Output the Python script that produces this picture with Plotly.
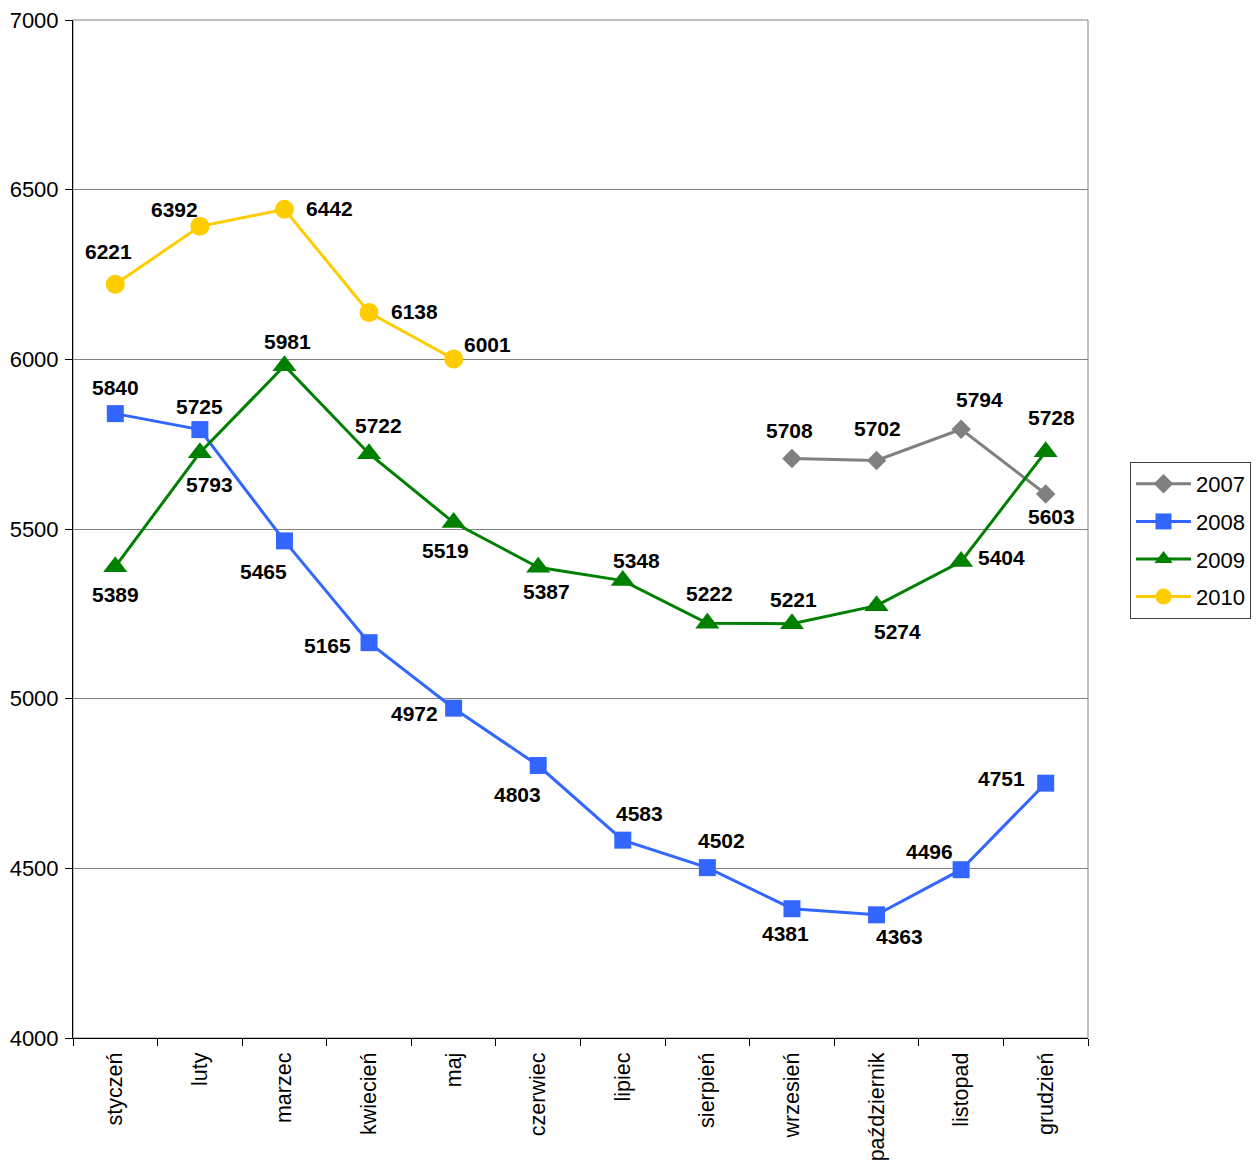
import plotly.graph_objects as go

months = ["styczeń", "luty", "marzec", "kwiecień", "maj", "czerwiec", "lipiec",
          "sierpień", "wrzesień", "październik", "listopad", "grudzień"]

v2007 = [None, None, None, None, None, None, None, None, 5708, 5702, 5794, 5603]
v2008 = [5840, 5793, 5465, 5165, 4972, 4803, 4583, 4502, 4381, 4363, 4496, 4751]
v2009 = [5389, 5725, 5981, 5722, 5519, 5387, 5348, 5222, 5221, 5274, 5404, 5728]
v2010 = [6221, 6392, 6442, 6138, 6001, None, None, None, None, None, None, None]

# label texts as printed in the original chart
lab2007 = [None] * 8 + ["5708", "5702", "5794", "5603"]
lab2008 = ["5840", "5725", "5465", "5165", "4972", "4803", "4583", "4502", "4381", "4363", "4496", "4751"]
lab2009 = ["5389", "5793", "5981", "5722", "5519", "5387", "5348", "5222", "5221", "5274", "5404", "5728"]
lab2010 = ["6221", "6392", "6442", "6138", "6001"] + [None] * 7

# label offsets (px) relative to the point: (dx, dy up)
off2007 = [None] * 8 + [(-2, 28), (1, 32), (18, 30), (6, -22)]
off2008 = [(0, 26), (0, 23), (-21, -31), (-42, -3), (-39, -5), (-21, -29), (17, 27),
           (14, 27), (-6, -25), (23, -22), (-32, 18), (-44, 5)]
off2009 = [(0, -28), (10, -32), (3, 24), (9, 28), (-8, -28), (8, -24), (14, 20),
           (2, 30), (2, 24), (21, -26), (40, 4), (6, 34)]
off2010 = [(-7, 33), (-25, 17), (45, 1), (45, 1), (34, 14)] + [None] * 7

FONT = "Liberation Sans, Arial, sans-serif"

series = [
    ("2007", v2007, lab2007, off2007, "#808080", "diamond", 15),
    ("2008", v2008, lab2008, off2008, "#3366FF", "square", 17),
    ("2009", v2009, lab2009, off2009, "#008000", "triangle-up", 21),
    ("2010", v2010, lab2010, off2010, "#FFCC00", "circle", 19),
]

fig = go.Figure()
annotations = []
for name, vals, labs, offs, color, sym, msize in series:
    fig.add_trace(go.Scatter(
        x=months, y=vals, name=name, mode="lines+markers",
        line=dict(color=color, width=3),
        marker=dict(symbol=sym, size=msize, color=color),
        legendgroup=name, connectgaps=False,
    ))
    for m, v, t, o in zip(months, vals, labs, offs):
        if v is None or t is None:
            continue
        annotations.append(dict(
            x=m, y=v, xref="x", yref="y", text=t, showarrow=False,
            xshift=o[0], yshift=o[1],
            font=dict(family=FONT, size=21, color="black", weight="bold"),
        ))

# the page body adds an 8px offset, so the figure is 8px smaller
fig.update_layout(
    width=1251, height=1156,
    margin=dict(l=65, r=171, t=12, b=126, autoexpand=False),
    paper_bgcolor="white", plot_bgcolor="white",
    font=dict(family=FONT, size=22, color="black"),
    annotations=annotations,
    showlegend=True,
    legend=dict(
        x=1.0414, y=0.5658, xanchor="left", yanchor="top",
        bordercolor="#404040", borderwidth=1, bgcolor="white",
        font=dict(family=FONT, size=22, color="black"),
        tracegroupgap=6, itemwidth=55,
    ),
    shapes=[dict(type="rect", xref="paper", yref="paper", x0=0, x1=1, y0=0, y1=1,
                 line=dict(color="#808080", width=1), layer="below")],
)

fig.update_xaxes(
    type="category", range=[-0.5, 11.5], tickson="boundaries",
    ticks="outside", ticklen=7, tickcolor="black", tickwidth=1,
    showline=True, linecolor="black", linewidth=1, showgrid=False,
    tickangle=-90, tickfont=dict(family=FONT, size=21.5, color="black"),
    ticklabelstandoff=5, ticklabeloverflow="allow",
    automargin=False,
)
fig.update_yaxes(
    range=[4000, 7000], dtick=500, tick0=4000,
    ticks="outside", ticklen=7, tickcolor="black", tickwidth=1,
    showline=True, linecolor="black", linewidth=1,
    showgrid=True, gridcolor="#808080", gridwidth=1, zeroline=False,
    tickfont=dict(family=FONT, size=22, color="black"),
    ticklabelstandoff=2, ticklabeloverflow="allow",
    automargin=False,
)

fig.write_html("out.html")
